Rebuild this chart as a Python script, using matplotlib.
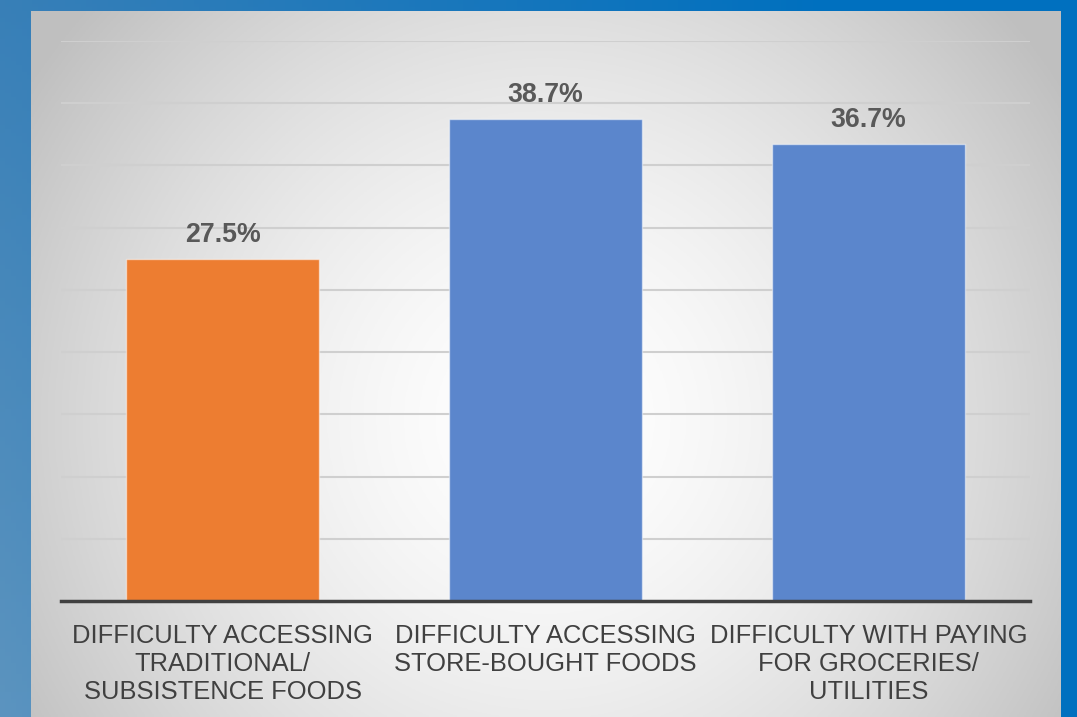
import numpy as np
import matplotlib
matplotlib.use('agg')
import matplotlib.pyplot as plt

plt.rcParams['font.family'] = ['Liberation Sans', 'DejaVu Sans']

categories = ['DIFFICULTY ACCESSING\nTRADITIONAL/\nSUBSISTENCE FOODS',
              'DIFFICULTY ACCESSING\nSTORE-BOUGHT FOODS',
              'DIFFICULTY WITH PAYING\nFOR GROCERIES/\nUTILITIES']
values = [27.5, 38.7, 36.7]
colors = ['#ED7D31', '#5B86CC', '#5B86CC']

W, H = 1077, 717
fig = plt.figure(figsize=(W / 100, H / 100), dpi=100)

# blue frame background
bg = fig.add_axes([0, 0, 1, 1])
xx, yy = np.meshgrid(np.linspace(0, 1, 200), np.linspace(0, 1, 200))
left_top = np.array([0.22, 0.50, 0.72])
left_bot = np.array([0.36, 0.58, 0.75])
right = np.array([0.0, 0.44, 0.75])
leftcol = left_top[None, None, :] * (1 - yy[..., None]) + left_bot[None, None, :] * yy[..., None]
t = np.clip(xx[..., None] * 1.3, 0, 1)
img = leftcol * (1 - t) + right[None, None, :] * t
bg.imshow(img, extent=[0, 1, 0, 1], aspect='auto', origin='upper')
bg.axis('off')

# light panel with radial gradient
px0, px1, py0 = 31, 1061, 11
panel = fig.add_axes([px0 / W, 0, (px1 - px0) / W, 1 - py0 / H])
gx, gy = np.meshgrid(np.linspace(px0, px1, 300), np.linspace(py0, H, 300))
d = np.sqrt((gx - 545) ** 2 + (gy - 420) ** 2) / 620
d = np.clip(d, 0, 1)
shade = 1 - 0.25 * d ** 1.6
panel.imshow(np.dstack([shade] * 3), extent=[0, 1, 0, 1], aspect='auto', origin='upper')
panel.axis('off')

# chart
ax = fig.add_axes([61 / W, 1 - 601 / H, (1030 - 61) / W, (601 - 41) / H])
ax.patch.set_alpha(0)
x = np.arange(len(values))
bars = ax.bar(x, values, width=0.6, color=colors, edgecolor=(1, 1, 1, 0.5), linewidth=1, zorder=3)
ax.set_xlim(-0.5, 2.5)
ax.set_ylim(0, 45)
ax.set_yticks(np.arange(5, 50, 5))
ax.yaxis.grid(True, color='#cfcfcf', linewidth=1.5, zorder=0)
ax.tick_params(axis='y', left=False, labelleft=False)
ax.tick_params(axis='x', bottom=False, pad=13)
ax.set_xticks(x)
ax.set_xticklabels(categories, fontsize=18.4, color='#404040', linespacing=1.22)
for s in ['top', 'left', 'right']:
    ax.spines[s].set_visible(False)
ax.spines['bottom'].set_color('#404040')
ax.spines['bottom'].set_linewidth(2.5)
ax.spines['bottom'].set_zorder(4)

for b, v in zip(bars, values):
    ax.annotate(f'{v}%', (b.get_x() + b.get_width() / 2, v), xytext=(0, 8),
                textcoords='offset points', ha='center', va='bottom',
                fontsize=19.3, fontweight='bold', color='#595959')

fig.savefig('out.png', dpi=100)
